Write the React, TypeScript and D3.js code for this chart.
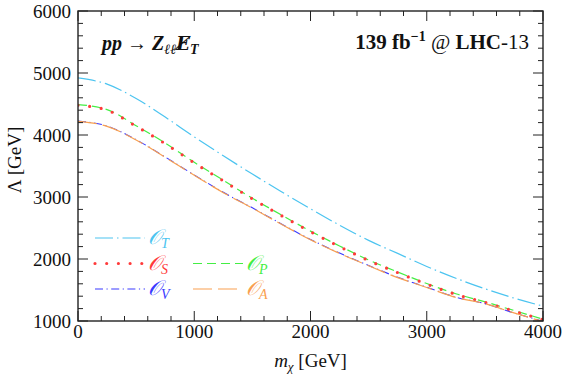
import React from "react";
import * as d3 from "d3";

// m_chi grid (GeV) and exclusion limits Lambda (GeV) per operator
const masses = [0, 250, 500, 750, 1000, 1250, 1500, 1750, 2000, 2250, 2500, 2750, 3000, 3250, 3500, 3750, 4000];
const lambdaT = [4920, 4820, 4590, 4290, 3970, 3665, 3370, 3085, 2810, 2545, 2300, 2090, 1880, 1690, 1520, 1370, 1240];
const lambdaS = [4480, 4400, 4140, 3860, 3550, 3260, 2970, 2700, 2440, 2200, 1975, 1780, 1595, 1430, 1300, 1160, 1020];
const lambdaP = [4490, 4410, 4150, 3870, 3560, 3270, 2980, 2710, 2450, 2210, 1985, 1790, 1605, 1440, 1310, 1170, 1030];
const lambdaV = [4225, 4145, 3925, 3645, 3355, 3075, 2825, 2565, 2315, 2095, 1895, 1705, 1545, 1385, 1280, 1130, 995];
const lambdaA = [4220, 4140, 3920, 3640, 3350, 3070, 2820, 2560, 2310, 2090, 1890, 1700, 1540, 1380, 1280, 1130, 990];

const xTicks = [0, 1000, 2000, 3000, 4000];
const yTicks = [1000, 2000, 3000, 4000, 5000, 6000];

const W = 566;
const H = 376;
const margin = { top: 11, right: 23, bottom: 55, left: 78 };

const series = [
  { key: "P", values: lambdaP, color: "#44ee44", dash: "9,5", width: 1.2, dots: false },
  { key: "S", values: lambdaS, color: "#ff3a3a", dash: "0,11.7", width: 3.2, dots: true },
  { key: "V", values: lambdaV, color: "#3a3aff", dash: "8,3.5,1.2,3.5", width: 1.1, dots: false },
  { key: "A", values: lambdaA, color: "#f9a050", dash: "19,6", width: 1.2, dots: false },
  { key: "T", values: lambdaT, color: "#4cc4f0", dash: "18,4,1.5,4", width: 1.2, dots: false },
];

const legend = [
  { key: "T", col: 0, row: 0 },
  { key: "S", col: 0, row: 1 },
  { key: "P", col: 1, row: 1 },
  { key: "V", col: 0, row: 2 },
  { key: "A", col: 1, row: 2 },
];

const serif = { fontFamily: "Liberation Serif" };

const App = () => {
  const x = d3.scaleLinear().domain([0, 4000]).range([margin.left, W - margin.right]);
  const y = d3.scaleLinear().domain([1000, 6000]).range([H - margin.bottom, margin.top]);

  const line = d3
    .line<number>()
    .x((_, i) => x(masses[i]))
    .y((d) => y(d))
    .curve(d3.curveMonotoneX);

  const x0 = x(0);
  const x1 = x(4000);
  const y0 = y(1000);
  const y1 = y(6000);

  const xMinor = d3.range(0, 4001, 200);
  const yMinor = d3.range(1000, 6001, 200);
  const axisColor = "#222";

  return (
    <svg width={W} height={H} style={{ position: "absolute", left: 0, top: 0, ...serif }}>
      <rect width={W} height={H} fill="#fff" />
      <defs>
        <clipPath id="plot">
          <rect x={x0} y={y1} width={x1 - x0} height={y0 - y1} />
        </clipPath>
      </defs>

      {/* curves */}
      <g clipPath="url(#plot)" fill="none">
        {series.map((s) => (
          <path
            key={s.key}
            d={line(s.values) || ""}
            stroke={s.color}
            strokeWidth={s.width}
            strokeDasharray={s.dash}
            strokeLinecap={s.dots ? "round" : "butt"}
          />
        ))}
      </g>

      {/* frame + ticks on all sides */}
      <g stroke={axisColor}>
        {xMinor.map((v) => {
          const len = v % 1000 === 0 ? 10 : 5;
          return (
            <g key={"xt" + v}>
              <line x1={x(v)} x2={x(v)} y1={y0} y2={y0 - len} strokeWidth={1} />
              <line x1={x(v)} x2={x(v)} y1={y1} y2={y1 + len} strokeWidth={1} />
            </g>
          );
        })}
        {yMinor.map((v) => {
          const len = v % 1000 === 0 ? 10 : 5;
          return (
            <g key={"yt" + v}>
              <line x1={x0} x2={x0 + len} y1={y(v)} y2={y(v)} strokeWidth={1} />
              <line x1={x1} x2={x1 - len} y1={y(v)} y2={y(v)} strokeWidth={1} />
            </g>
          );
        })}
        <rect x={x0} y={y1} width={x1 - x0} height={y0 - y1} fill="none" strokeWidth={1.4} />
      </g>

      {/* tick labels */}
      <g fill="#111" style={{ ...serif, fontSize: 19 }}>
        {xTicks.map((v) => (
          <text key={"xl" + v} x={x(v)} y={y0 + 17} textAnchor="middle">
            {v}
          </text>
        ))}
        {yTicks.map((v) => (
          <text key={"yl" + v} x={x0 - 7} y={y(v) + 6.5} textAnchor="end">
            {v}
          </text>
        ))}
      </g>

      {/* axis titles */}
      <text x={(x0 + x1) / 2} y={H - 9} textAnchor="middle" fill="#111" style={{ ...serif, fontSize: 19 }}>
        <tspan fontStyle="italic">m</tspan>
        <tspan fontStyle="italic" fontSize={13} dy={4}>χ</tspan>
        <tspan dy={-4}> [GeV]</tspan>
      </text>
      <text
        transform={`translate(21, ${(y0 + y1) / 2 - 6}) rotate(-90)`}
        textAnchor="middle"
        fill="#111"
        style={{ ...serif, fontSize: 19 }}
      >
        Λ [GeV]
      </text>

      {/* annotations */}
      <text x={102} y={50} fontWeight="bold" fontStyle="italic" fill="#111" style={{ ...serif, fontSize: 20 }}>
        <tspan>pp → Z</tspan>
        <tspan fontSize={14} dy={4}>ℓℓ</tspan>
        <tspan dy={-4} style={{ fontFamily: "DejaVu Serif", fontSize: 18 }}>E̸</tspan>
        <tspan fontSize={14} dy={4}>T</tspan>
      </text>
      <text x={529} y={49} textAnchor="end" fill="#111" style={{ ...serif, fontSize: 21 }}>
        <tspan fontWeight="bold">139 fb</tspan>
        <tspan fontWeight="bold" fontSize={14} dy={-8}>−1</tspan>
        <tspan dy={8}> @ </tspan>
        <tspan fontWeight="bold">LHC</tspan>
        <tspan>-13</tspan>
      </text>

      {/* legend */}
      {legend.map((l) => {
        const s = series.find((d) => d.key === l.key)!;
        const lx = l.col === 0 ? 95 : 193;
        const ly = 238 + l.row * 25.5;
        return (
          <g key={"lg" + l.key}>
            <line
              x1={lx}
              x2={lx + 50}
              y1={ly}
              y2={ly}
              stroke={s.color}
              strokeWidth={s.width}
              strokeDasharray={s.dash}
              strokeLinecap={s.dots ? "round" : "butt"}
            />
            <text x={lx + 53} y={ly + 6} fill={s.color} style={{ ...serif, fontSize: 21 }}>
              <tspan fontStyle="italic">𝒪</tspan>
              <tspan fontStyle="italic" fontSize={14} dy={4}>{l.key}</tspan>
            </text>
          </g>
        );
      })}
    </svg>
  );
};

export default App;
